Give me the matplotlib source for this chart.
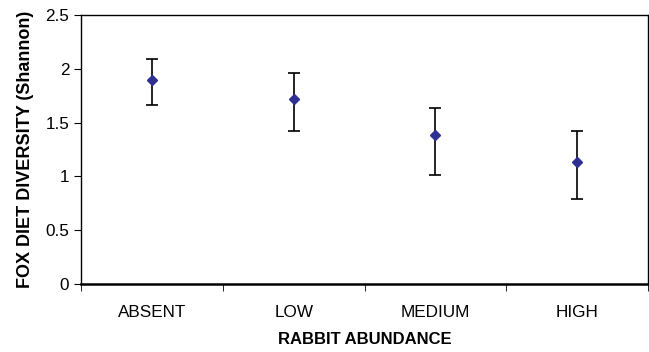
import matplotlib.pyplot as plt
import numpy as np

plt.rcParams['font.family'] = ['Liberation Sans', 'DejaVu Sans']

categories = ['ABSENT', 'LOW', 'MEDIUM', 'HIGH']
diversity = [1.90, 1.72, 1.385, 1.13]
err_low = [1.66, 1.42, 1.01, 0.79]
err_high = [2.09, 1.96, 1.64, 1.42]

x = np.arange(len(categories))
mean = np.array(diversity)
yerr = [mean - np.array(err_low), np.array(err_high) - mean]

fig = plt.figure(figsize=(6.49, 3.52), dpi=100)
ax = fig.add_axes([81 / 649, 68 / 352, 567 / 649, 269 / 352])

ax.errorbar(x, mean, yerr=yerr, fmt='D', color='#2E3192', markersize=5,
            ecolor='black', elinewidth=1.2, capsize=4, capthick=1.2)

ax.set_xlim(-0.5, len(categories) - 0.5)
ax.set_ylim(0, 2.5)
ax.set_yticks([0, 0.5, 1, 1.5, 2, 2.5])
ax.set_yticklabels(['0', '0.5', '1', '1.5', '2', '2.5'])
ax.set_xticks(x)
ax.set_xticklabels(categories)
ax.set_xticks(np.arange(-0.5, len(categories)), minor=True)
ax.tick_params(axis='x', which='major', length=0, pad=15, labelsize=12.3)
ax.tick_params(axis='x', which='minor', length=5, direction='out')
ax.tick_params(axis='y', length=5, direction='out', labelsize=12.3)

for s in ax.spines.values():
    s.set_linewidth(1)
ax.spines['bottom'].set_linewidth(1.8)

ax.set_xlabel('RABBIT ABUNDANCE', fontweight='bold', fontsize=12, labelpad=9)
ax.set_ylabel('FOX DIET DIVERSITY (Shannon)', fontweight='bold', fontsize=13, labelpad=8)

fig.savefig('out.png', dpi=100)
